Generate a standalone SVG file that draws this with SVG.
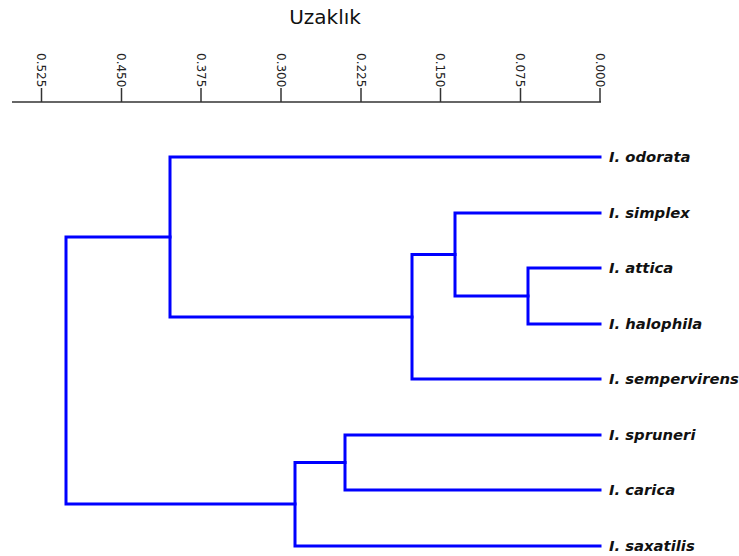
<svg xmlns="http://www.w3.org/2000/svg" width="739" height="556" viewBox="0 0 739 556">
<style>
.title{font-family:"DejaVu Sans",Verdana,sans-serif;font-size:20px;fill:#111}
.tick{font-family:"DejaVu Sans",Verdana,sans-serif;font-size:12px;fill:#222}
.leaf{font-family:"DejaVu Sans",Verdana,sans-serif;font-size:14.8px;font-weight:bold;font-style:italic;fill:#111}
.br{fill:none;stroke:#0000ff;stroke-width:3;stroke-linecap:square;stroke-linejoin:miter}
.ax{stroke:#666;stroke-width:2}
.tk{stroke:#333;stroke-width:1.5}
</style>
<g id="axis">
<text class="title" x="325" y="24" text-anchor="middle">Uzaklık</text>
<line class="ax" x1="12" y1="102" x2="601" y2="102"/>
<line class="tk" x1="41.5" y1="88" x2="41.5" y2="102"/>
<line class="tk" x1="121.5" y1="88" x2="121.5" y2="102"/>
<line class="tk" x1="201" y1="88" x2="201" y2="102"/>
<line class="tk" x1="281" y1="88" x2="281" y2="102"/>
<line class="tk" x1="361" y1="88" x2="361" y2="102"/>
<line class="tk" x1="440.5" y1="88" x2="440.5" y2="102"/>
<line class="tk" x1="520.5" y1="88" x2="520.5" y2="102"/>
<line class="tk" x1="600" y1="88" x2="600" y2="102"/>
<text class="tick" transform="translate(37.3,53) rotate(90)">0.525</text>
<text class="tick" transform="translate(117.3,53) rotate(90)">0.450</text>
<text class="tick" transform="translate(196.8,53) rotate(90)">0.375</text>
<text class="tick" transform="translate(276.8,53) rotate(90)">0.300</text>
<text class="tick" transform="translate(356.8,53) rotate(90)">0.225</text>
<text class="tick" transform="translate(436.3,53) rotate(90)">0.150</text>
<text class="tick" transform="translate(516.3,53) rotate(90)">0.075</text>
<text class="tick" transform="translate(595.8,53) rotate(90)">0.000</text>
</g>
<g id="connectors">
<path class="br" d="M600,268 H528 V324 H600"/>
<path class="br" d="M600,213 H455 V296 H528"/>
<path class="br" d="M455,254.5 H412 V379 H600"/>
<path class="br" d="M600,157 H170 V317 H412"/>
<path class="br" d="M600,435 H345 V490 H600"/>
<path class="br" d="M345,462.5 H295 V546 H600"/>
<path class="br" d="M170,237 H66 V504 H295"/>
</g>
<g id="leaf-odorata"><text class="leaf" x="609" y="162">I. odorata</text></g>
<g id="leaf-simplex"><text class="leaf" x="609" y="218">I. simplex</text></g>
<g id="leaf-attica"><text class="leaf" x="609" y="273">I. attica</text></g>
<g id="leaf-halophila"><text class="leaf" x="609" y="329">I. halophila</text></g>
<g id="leaf-sempervirens"><text class="leaf" x="609" y="384">I. sempervirens</text></g>
<g id="leaf-spruneri"><text class="leaf" x="609" y="440">I. spruneri</text></g>
<g id="leaf-carica"><text class="leaf" x="609" y="495">I. carica</text></g>
<g id="leaf-saxatilis"><text class="leaf" x="609" y="551">I. saxatilis</text></g>
</svg>
